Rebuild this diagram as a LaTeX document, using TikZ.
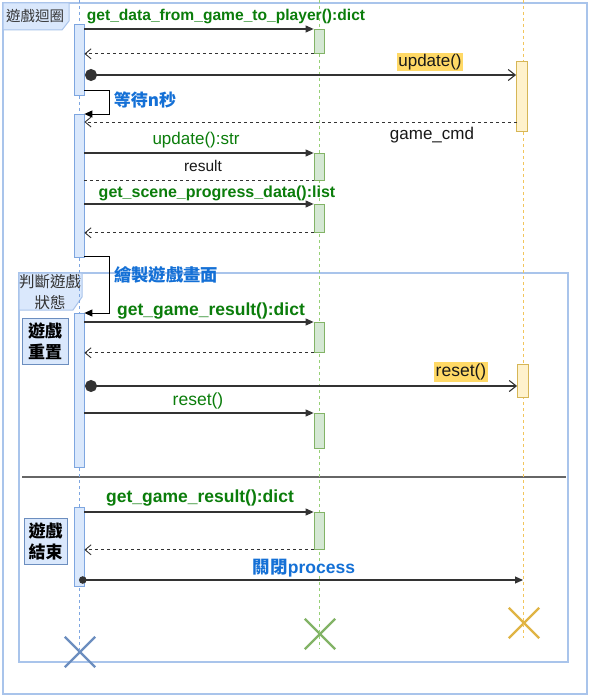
\documentclass[tikz,border=0pt]{standalone}
\usepackage{fontspec}
\setmainfont{Liberation Sans}
\newfontfamily\cjk{Noto Sans CJK TC}
\usetikzlibrary{arrows.meta,shapes.misc,calc}
\definecolor{bfill}{HTML}{DAE8FC}
\definecolor{bdraw}{HTML}{7EA6E0}
\definecolor{gfill}{HTML}{D5E8D4}
\definecolor{gdraw}{HTML}{82B366}
\definecolor{yfill}{HTML}{FFF2CC}
\definecolor{ydraw}{HTML}{D6B656}
\definecolor{framec}{HTML}{A9C4EB}
\definecolor{tgreen}{HTML}{0B7D0B}
\definecolor{tblue}{HTML}{1470D6}
\definecolor{hl}{HTML}{FFD966}
\definecolor{lnc}{HTML}{333333}
\definecolor{xblue}{HTML}{6C8EBF}
\definecolor{xgreen}{HTML}{82B366}
\definecolor{xyel}{HTML}{E0B444}
\definecolor{lgreen}{HTML}{97D077}
\definecolor{lyel}{HTML}{F2C55C}
\definecolor{sepc}{HTML}{666666}
\definecolor{tabtxt}{HTML}{333333}
\begin{document}
\begin{tikzpicture}[x=1pt,y=-1pt,
  bar/.style={draw, minimum width=10pt, inner sep=0pt, anchor=north, line width=0.8pt},
  bbar/.style={bar, fill=bfill, draw=bdraw},
  gbar/.style={bar, fill=gfill, draw=gdraw},
  ybar/.style={bar, fill=yfill, draw=ydraw, minimum width=11pt},
  msg/.style={draw=lnc, line width=1.1pt, -{Triangle[length=8pt,width=7pt]}},
  ret/.style={draw=lnc, line width=0.9pt, dash pattern=on 3pt off 3pt, -{Straight Barb[length=6pt,width=10pt]}},
  plainret/.style={draw=lnc, line width=0.9pt, dash pattern=on 3pt off 3pt},
  async/.style={draw=lnc, line width=1.1pt, {Circle[length=12pt]}-{Straight Barb[length=7pt,width=11pt]}},
  selfmsg/.style={draw=black, line width=0.9pt, -{Triangle[length=8pt,width=7pt]}},
  life/.style={line width=0.8pt, dash pattern=on 3pt off 3pt},
  xmark/.style={cross out, draw, minimum size=28pt, inner sep=0pt, line width=2.4pt},
  lab/.style={inner sep=0pt, font=\fontsize{#1}{#1}\selectfont},
  glab/.style={lab=#1, text=tgreen},
  gblab/.style={lab=#1, text=tgreen, font=\fontsize{#1}{#1}\selectfont\bfseries},
  blab/.style={lab=#1, text=tblue, font=\fontsize{#1}{#1}\selectfont\bfseries\cjk},
  klab/.style={lab=#1, text=black!90},
  hlab/.style={lab=#1, text=black!90, fill=hl, inner sep=1.5pt},
  statebox/.style={draw=xblue, fill=bfill, line width=0.8pt, minimum height=46pt, inner sep=0pt, align=center, font=\fontsize{17}{21}\selectfont\bfseries\cjk}
]
\useasboundingbox (0,0) rectangle (592,698);
\fill[white] (0,0) rectangle (592,698);

% frames
\draw[framec, line width=1.2pt] (3,3) rectangle (587,694);
\draw[framec, fill=bfill, line width=1pt] (3,3) -- (69,3) -- (69,21) -- (62,30) -- (3,30) -- cycle;
\node[lab=14.5, text=tabtxt, font=\fontsize{14.5}{14.5}\selectfont\cjk] (tab1) at (35,16) {遊戲迴圈};

\draw[framec, line width=1.2pt] (19,273) rectangle (568,662);
\draw[framec, fill=bfill, line width=1pt] (19,273) -- (82,273) -- (82,297) -- (73,310) -- (19,310) -- cycle;
\node[lab=15.5, text=tabtxt, font=\fontsize{15.5}{21}\selectfont\cjk, align=center] (tab2) at (50,292.5) {判斷遊戲\\狀態};

\draw[sepc, line width=1.2pt] (22,477) -- (566,477);

% destroy marks
\node[xmark, draw=xblue] (XB) at (80,652) {};
\node[xmark, draw=xgreen] (XG) at (320,634) {};
\node[xmark, draw=xyel] (XY) at (524,623) {};

% lifelines
\coordinate (TB) at (79,0);
\coordinate (TG) at (319,0);
\coordinate (TY) at (523,0);
\draw[life, draw=bdraw] (TB) -- (TB |- XB.center);
\draw[life, draw=lgreen] (TG) -- (TG |- XG.south);
\draw[life, draw=lyel] (TY) -- (TY |- XY.south);

% activation bars
\node[bbar, minimum height=71pt] (A) at (79,24) {};
\node[bbar, minimum height=143pt] (B) at (79,114) {};
\node[bbar, minimum height=154pt] (C) at (79,313) {};
\node[bbar, minimum height=79pt] (D) at (79,507) {};
\node[gbar, minimum height=24pt] (G1) at (319,29) {};
\node[gbar, minimum height=27pt] (G2) at (319,153) {};
\node[gbar, minimum height=28pt] (G3) at (319,204) {};
\node[gbar, minimum height=30pt] (G4) at (319,322) {};
\node[gbar, minimum height=35pt] (G5) at (319,413) {};
\node[gbar, minimum height=37pt] (G6) at (319,512) {};
\node[ybar, minimum height=70pt] (Y1) at (522,61) {};
\node[ybar, minimum height=33pt] (Y2) at (523,364) {};

% state boxes
\node[statebox, minimum width=46pt] (S1) at (45,341) {遊戲\\重置};
\node[statebox, minimum width=43pt] (S2) at (45.5,541) {遊戲\\結束};

% messages
\draw[msg] (A.east |- G1.north) -- (G1.north west);
\draw[ret] (G1.south west) -- (A.east |- G1.south);
\coordinate (c3) at (85,75);
\draw[async] (c3) -- (c3 -| Y1.west);
\coordinate (s1) at (84,90);
\draw[selfmsg] (s1) -- ++(25,0) |- (B.north east);
\coordinate (c5) at (516.5,122);
\draw[ret] (c5) -- (c5 -| B.east);
\draw[msg] (B.east |- G2.north) -- (G2.north west);
\draw[plainret] (B.east |- G2.south) -- (G2.south west);
\draw[msg] (B.east |- G3.north) -- (G3.north west);
\draw[ret] (G3.south west) -- (B.east |- G3.south);
\coordinate (s2) at (84,256);
\draw[selfmsg] (s2) -- ++(25,0) |- (C.north east);
\draw[msg] (C.east |- G4.north) -- (G4.north west);
\draw[ret] (G4.south west) -- (C.east |- G4.south);
\coordinate (c13) at (85,386);
\draw[async] (c13) -- (c13 -| Y2.west);
\draw[msg] (C.east |- G5.north) -- (G5.north west);
\draw[msg] (D.east |- G6.north) -- (G6.north west);
\draw[ret] (G6.south west) -- (D.east |- G6.south);
\coordinate (c17) at (79,580);
\draw[draw=lnc, line width=1.1pt, {Circle[length=7.5pt]}-{Triangle[length=8pt,width=7pt]}] (c17) -- (c17 -| TY);

% labels
\node[gblab=15.6] (L1) at (226,17) {get\_data\_from\_game\_to\_player():dict};
\node[hlab=17] (L2) at (430,62) {update()};
\node[blab=17] (L3) at (145,100) {等待n秒};
\node[klab=17] (L4) at (432,135) {game\_cmd};
\node[glab=17] (L5) at (196,140) {update():str};
\node[klab=15.5] (L6) at (203,166) {result};
\node[gblab=16] (L7) at (217,193) {get\_scene\_progress\_data():list};
\node[blab=17.3] (L8) at (166,275) {繪製遊戲畫面};
\node[gblab=17.5] (L9) at (211,311) {get\_game\_result():dict};
\node[hlab=17.5] (L10) at (461,372) {reset()};
\node[glab=17.5] (L11) at (198,401) {reset()};
\node[gblab=17.5] (L12) at (200,498) {get\_game\_result():dict};
\node[lab=17.5, text=tblue, font=\fontsize{17.5}{17.5}\selectfont\bfseries] (L13) at (304,568) {{\cjk 關閉}process};
\end{tikzpicture}
\end{document}
